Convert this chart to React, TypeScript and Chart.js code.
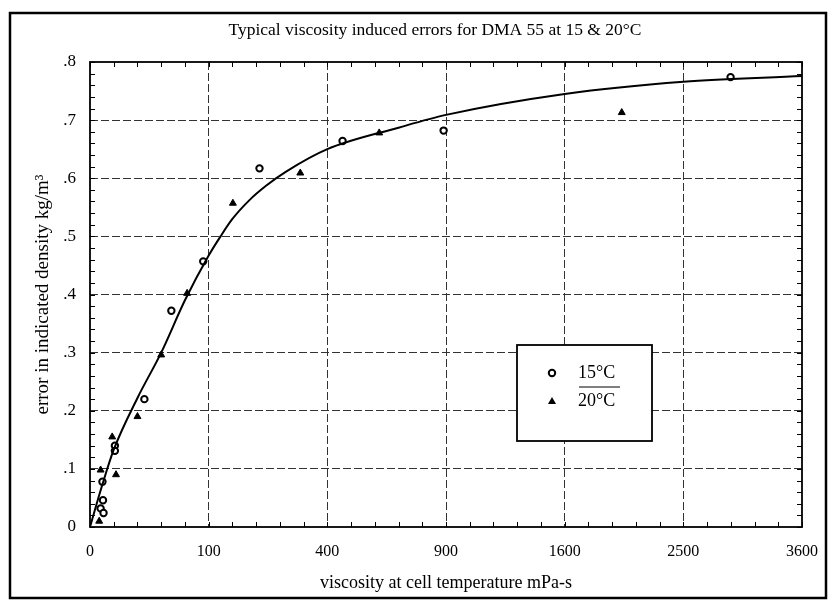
import React, { useEffect, useRef } from "react";
import { Chart, registerables } from "chart.js";

Chart.register(...registerables);

const titleText = "Typical viscosity induced errors for DMA 55 at 15 & 20°C";
const xAxisTitle = "viscosity at cell temperature mPa-s";
const yAxisTitle = "error in indicated density kg/m³";
const legendLabels = ["15°C", "20°C"];

// x axis is a square-root scale: labels are viscosity, positions are sqrt(viscosity)
const xTickViscosity = [0, 100, 400, 900, 1600, 2500, 3600];
const yTickValues = [0, 0.1, 0.2, 0.3, 0.4, 0.5, 0.6, 0.7, 0.8];

// 15°C (open circles)
const visc15 = [2914, 888, 453, 204, 91, 47, 21, 4.4, 4.4, 1.1, 1.2, 0.8, 1.3];
const err15 = [0.774, 0.682, 0.664, 0.617, 0.457, 0.372, 0.22, 0.14, 0.131, 0.078, 0.046, 0.032, 0.024];

// 20°C (filled triangles)
const visc20 = [2008, 594, 314, 145, 67, 36, 16, 3.5, 4.8, 0.8, 0.6];
const err20 = [0.713, 0.678, 0.609, 0.557, 0.402, 0.296, 0.19, 0.155, 0.09, 0.098, 0.01];

// fitted curve
const curveVisc = [0, 1, 4, 16, 36, 64, 100, 121, 144, 180, 220, 272, 400, 676, 900, 1600, 2500, 3600];
const curveErr = [0, 0.07, 0.133, 0.222, 0.3, 0.39, 0.467, 0.5, 0.53, 0.562, 0.587, 0.611, 0.65, 0.687, 0.709, 0.745, 0.766, 0.776];

const SERIF = '"Liberation Serif", "Times New Roman", serif';

const toPoints = (v: number[], e: number[]) => v.map((val, i) => ({ x: Math.sqrt(val), y: e[i] }));

const decorPlugin = {
  id: "decor",
  afterDraw(chart: any) {
    const { ctx, chartArea: a, scales } = chart;
    const x = scales.x;
    const y = scales.y;
    ctx.save();
    // outer frame
    ctx.strokeStyle = "#000";
    ctx.lineWidth = 2.5;
    ctx.strokeRect(10, 13, 816, 585);
    // title
    ctx.fillStyle = "#000";
    ctx.font = `17.5px ${SERIF}`;
    ctx.textAlign = "center";
    ctx.textBaseline = "middle";
    ctx.fillText(titleText, 435, 30);
    // minor ticks (inward, all four sides)
    ctx.lineWidth = 1;
    ctx.beginPath();
    for (let s = 0; s <= 60; s += 2) {
      const px = Math.round(x.getPixelForValue(s)) + 0.5;
      ctx.moveTo(px, a.bottom);
      ctx.lineTo(px, a.bottom - 5);
      ctx.moveTo(px, a.top);
      ctx.lineTo(px, a.top + 5);
    }
    for (let i = 0; i <= 40; i++) {
      const py = Math.round(y.getPixelForValue(i * 0.02)) + 0.5;
      ctx.moveTo(a.left, py);
      ctx.lineTo(a.left + 5, py);
      ctx.moveTo(a.right, py);
      ctx.lineTo(a.right - 5, py);
    }
    ctx.stroke();
    // plot border
    ctx.lineWidth = 1.8;
    ctx.strokeRect(a.left, a.top, a.right - a.left, a.bottom - a.top);
    // legend box
    const lx = a.left + 427;
    const ly = a.top + 283;
    ctx.fillStyle = "#fff";
    ctx.fillRect(lx, ly, 135, 96);
    ctx.lineWidth = 1.8;
    ctx.strokeRect(lx, ly, 135, 96);
    // legend markers
    ctx.fillStyle = "#fff";
    ctx.lineWidth = 2;
    ctx.beginPath();
    ctx.arc(lx + 35, ly + 28, 3.2, 0, Math.PI * 2);
    ctx.fill();
    ctx.stroke();
    ctx.fillStyle = "#000";
    ctx.beginPath();
    const tx = lx + 35;
    const ty = ly + 56;
    ctx.moveTo(tx, ty - 4);
    ctx.lineTo(tx + 4, ty + 3);
    ctx.lineTo(tx - 4, ty + 3);
    ctx.closePath();
    ctx.fill();
    // legend texts
    ctx.font = `18px ${SERIF}`;
    ctx.textAlign = "left";
    ctx.textBaseline = "middle";
    ctx.fillText(legendLabels[0], lx + 61, ly + 28);
    ctx.fillText(legendLabels[1], lx + 61, ly + 56);
    ctx.lineWidth = 1;
    ctx.beginPath();
    ctx.moveTo(lx + 62, ly + 42);
    ctx.lineTo(lx + 103, ly + 42);
    ctx.stroke();
    ctx.restore();
  },
};

export default function App() {
  const ref = useRef<HTMLCanvasElement>(null);
  useEffect(() => {
    if (!ref.current) return;
    const gridColor = (c: any) => {
      const n = c.scale.ticks.length;
      return c.index === 0 || c.index === n - 1 ? "rgba(0,0,0,0)" : "#333";
    };
    const chart = new Chart(ref.current, {
      type: "scatter",
      data: {
        datasets: [
          {
            label: "curve",
            data: toPoints(curveVisc, curveErr),
            showLine: true,
            borderColor: "#000",
            borderWidth: 2,
            pointRadius: 0,
            cubicInterpolationMode: "monotone",
          } as any,
          {
            label: legendLabels[0],
            data: toPoints(visc15, err15),
            pointStyle: "circle",
            pointRadius: 3.2,
            borderWidth: 2,
            borderColor: "#000",
            backgroundColor: "#fff",
          },
          {
            label: legendLabels[1],
            data: toPoints(visc20, err20),
            pointStyle: "triangle",
            pointRadius: 4,
            borderWidth: 1,
            borderColor: "#000",
            backgroundColor: "#000",
          },
        ],
      },
      options: {
        responsive: false,
        animation: false,
        layout: { padding: { top: 62, right: 33, left: 0, bottom: 0 } },
        plugins: { legend: { display: false }, tooltip: { enabled: false } },
        scales: {
          x: {
            type: "linear",
            min: 0,
            max: 60,
            afterFit: (s: any) => {
              s.height = 76;
            },
            afterBuildTicks: (s: any) => {
              s.ticks = xTickViscosity.map((v) => ({ value: Math.sqrt(v) }));
            },
            ticks: {
              color: "#000",
              font: { family: SERIF, size: 16 },
              padding: 15,
              maxRotation: 0,
              callback: (v: any) => String(Math.round(Number(v) * Number(v))),
            },
            grid: { color: gridColor, drawTicks: false, lineWidth: 1 },
            border: { display: false, dash: [8, 3] },
            title: {
              display: true,
              text: xAxisTitle,
              color: "#000",
              font: { family: SERIF, size: 18 },
              padding: { top: 0, bottom: 9 },
            },
          },
          y: {
            type: "linear",
            min: 0,
            max: 0.8,
            afterFit: (s: any) => {
              s.width = 90;
            },
            afterBuildTicks: (s: any) => {
              s.ticks = yTickValues.map((v) => ({ value: v }));
            },
            ticks: {
              color: "#000",
              font: { family: SERIF, size: 17 },
              padding: 14,
              callback: (v: any) => (Number(v) === 0 ? "0" : Number(v).toFixed(1).replace(/^0/, "")),
            },
            grid: { color: gridColor, drawTicks: false, lineWidth: 1 },
            border: { display: false, dash: [8, 3] },
            title: {
              display: true,
              text: yAxisTitle,
              color: "#000",
              font: { family: SERIF, size: 19 },
              padding: { top: 32, bottom: 0 },
            },
          },
        },
      },
      plugins: [decorPlugin],
    });
    return () => chart.destroy();
  }, []);
  return (
    <div style={{ position: "absolute", left: 0, top: 0, width: 835, height: 603, background: "#fff" }}>
      <canvas ref={ref} width={835} height={603} style={{ display: "block" }} />
    </div>
  );
}
